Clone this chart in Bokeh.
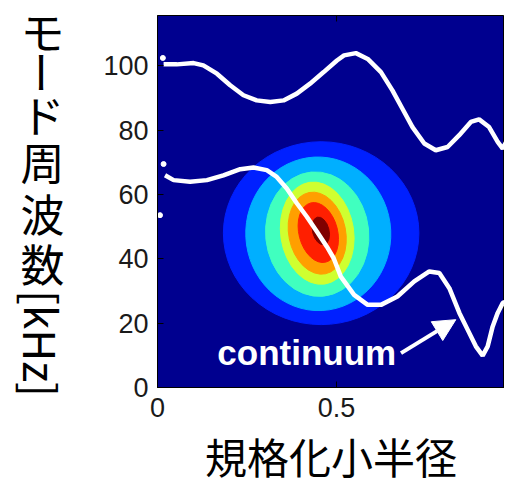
import math
from bokeh.plotting import figure
from bokeh.models import Range1d, FixedTicker, Label, Arrow, NormalHead
from bokeh.layouts import row, column
from bokeh.core.properties import value
from bokeh.embed import file_html
from bokeh.resources import INLINE

# ---- data ----
# upper continuum branch (normalized minor radius, frequency kHz)
upper_r = [0.017, 0.054, 0.101, 0.128, 0.166, 0.203, 0.240, 0.277, 0.315, 0.352,
           0.389, 0.426, 0.464, 0.501, 0.521, 0.554, 0.587, 0.624, 0.656, 0.684,
           0.712, 0.745, 0.777, 0.810, 0.842, 0.875, 0.898, 0.926, 0.950, 0.964, 0.976]
upper_f = [100.5, 100.5, 100.9, 100.2, 97.6, 94.0, 90.9, 89.3, 88.8, 89.3,
           91.4, 94.5, 98.1, 101.7, 103.3, 104.0, 102.2, 98.1, 92.4, 86.7,
           81.0, 75.9, 73.8, 74.8, 78.4, 82.6, 83.4, 81.0, 76.4, 74.3, 76.9]
# lower continuum branch
lower_r = [0.021, 0.045, 0.091, 0.138, 0.184, 0.231, 0.268, 0.305, 0.333, 0.361,
           0.389, 0.417, 0.445, 0.473, 0.492, 0.512, 0.549, 0.587, 0.624, 0.670,
           0.717, 0.759, 0.787, 0.815, 0.843, 0.866, 0.889, 0.908, 0.922, 0.936,
           0.950, 0.964, 0.976]
lower_f = [66.0, 64.5, 64.0, 64.5, 66.0, 67.9, 68.4, 67.6, 65.5, 61.9,
           57.3, 53.1, 48.5, 43.8, 40.2, 34.5, 28.8, 25.7, 25.7, 28.3,
           33.0, 36.1, 35.6, 30.9, 23.2, 18.0, 12.8, 9.9, 12.8, 19.0,
           23.2, 26.3, 26.8]
# isolated continuum points at the axis
stray_r = [0.015, 0.017, 0.007]
stray_f = [102.5, 69.5, 53.6]

# mode amplitude contour levels (outer -> inner)
level_colors = ["#0020FF", "#00AFFF", "#40FFBF", "#CFFF30", "#FF9F00", "#FF1F00", "#800000"]
level_r = [0.457, 0.449, 0.446, 0.446, 0.446, 0.449, 0.456]
level_f = [48.0, 47.8, 47.7, 48.0, 48.0, 48.2, 48.7]
level_w = [0.546, 0.405, 0.288, 0.204, 0.159, 0.108, 0.046]
level_h = [56.9, 47.8, 38.8, 32.0, 25.8, 19.0, 8.8]
level_tilt = [0.0, 0.05, 0.1, 0.15, 0.2, 0.25, 0.25]

x_ticks = [0, 0.5, 1]
y_ticks = [0, 20, 40, 60, 80, 100]
X_MAX, Y_MAX = 0.969, 115.7

# vertical (tategaki) y label pieces
ylabel_parts = ["モ", "ー", "ド", "周", "波", "数", "[kHz]"]
ylabel_rot = [0, -math.pi / 2, 0, 0, 0, 0, -math.pi / 2]
xlabel = "規格化小半径"

note_text = "continuum"
note_pos = (0.167, 10.8)
arrow_from = (0.680, 10.7)
arrow_to = (0.833, 21.1)

# ---- y label panel ----
YL_W, TOTAL_H = 100, 488
ylabel_x = [42] * len(ylabel_parts)
ylabel_y = [30, 72, 113, 160, 212, 262, 343]
yl = figure(width=YL_W, height=TOTAL_H, output_backend="svg", toolbar_location=None,
            x_range=Range1d(0, YL_W), y_range=Range1d(TOTAL_H, 0),
            x_axis_location=None, y_axis_location=None, min_border=0)
yl.grid.visible = False
yl.outline_line_color = None
yl.text(x=ylabel_x, y=ylabel_y, text=ylabel_parts, angle=ylabel_rot,
        text_align="center", text_baseline="middle",
        text_font=value("Noto Sans CJK JP"), text_font_size="44px", text_color="black")

# ---- main plot ----
MAIN_W = 404
p = figure(width=MAIN_W, height=TOTAL_H, output_backend="svg", toolbar_location=None,
           x_range=Range1d(0, X_MAX), y_range=Range1d(0, Y_MAX),
           min_border_left=57, min_border_right=0, min_border_top=15, min_border_bottom=100)
p.background_fill_color = "#00008F"
p.border_fill_color = "white"
p.outline_line_color = "black"
p.outline_line_width = 1
p.grid.visible = False

for ax in (p.xaxis[0], p.yaxis[0]):
    ax.major_tick_in = 6
    ax.major_tick_out = 0
    ax.minor_tick_line_color = None
    ax.axis_line_color = "black"
    ax.major_tick_line_color = "black"
    ax.major_label_text_font = "Liberation Sans"
    ax.major_label_text_font_size = "27px"
    ax.major_label_text_color = "#1a1a1a"
p.xaxis[0].ticker = FixedTicker(ticks=x_ticks)
p.yaxis[0].ticker = FixedTicker(ticks=y_ticks)
p.xaxis[0].major_label_standoff = 10
p.yaxis[0].major_label_standoff = 9

xa = p.xaxis[0]
xa.axis_label = xlabel
xa.axis_label_text_font = "Noto Sans CJK JP"
xa.axis_label_text_font_size = "42px"
xa.axis_label_text_font_style = "normal"
xa.axis_label_text_color = "black"
xa.axis_label_standoff = 5

# contour levels
for c, r, f, w, h, t in zip(level_colors, level_r, level_f, level_w, level_h, level_tilt):
    p.ellipse(x=[r], y=[f], width=[w], height=[h], angle=[t],
              fill_color=c, line_color=c, line_width=1)

# continuum curves
p.line(upper_r, upper_f, line_color="white", line_width=4.5)
p.line(lower_r, lower_f, line_color="white", line_width=4.5)
p.scatter(stray_r, stray_f, size=5, fill_color="white", line_color="white")

# top-edge tick marks (box style axes)
p.segment(x0=x_ticks, y0=[Y_MAX] * len(x_ticks), x1=x_ticks,
          y1=[Y_MAX - 6 / 3.225] * len(x_ticks), line_color="black", line_width=1)

# annotation
p.add_layout(Label(x=note_pos[0], y=note_pos[1], text=note_text, text_color="white",
                   text_font="Liberation Sans", text_font_style="bold",
                   text_font_size="35px", text_baseline="alphabetic", text_align="left"))
p.add_layout(Arrow(end=NormalHead(size=22, fill_color="white", line_color="white"),
                   x_start=arrow_from[0], y_start=arrow_from[1],
                   x_end=arrow_to[0], y_end=arrow_to[1],
                   line_color="white", line_width=4))

# wrapping the plot in a column keeps the label panel from being frame-aligned
layout = row(yl, column(p))
open("out.html", "w").write(file_html(layout, INLINE))
